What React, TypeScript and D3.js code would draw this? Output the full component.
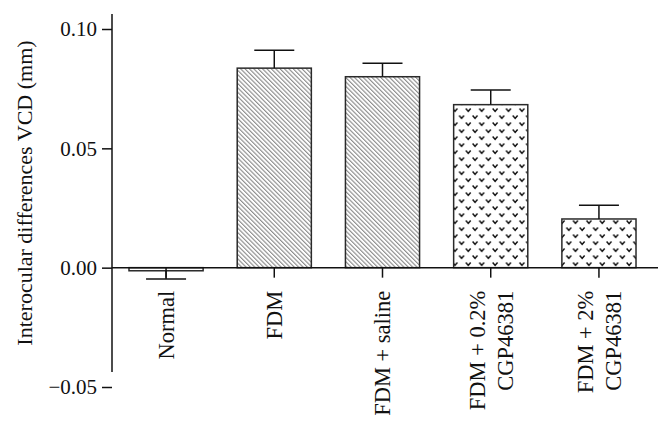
import { useEffect, useRef } from "react";
import * as d3 from "d3";

// Groups, bar heights (mean) and error bars (SEM)
const groups = ["Normal", "FDM", "FDM + saline", "FDM + 0.2% CGP46381", "FDM + 2% CGP46381"];
const groupLabelLines = [["Normal"], ["FDM"], ["FDM + saline"], ["FDM + 0.2%", "CGP46381"], ["FDM + 2%", "CGP46381"]];
const means = [-0.0013, 0.0836, 0.08, 0.0683, 0.0204];
const sems = [0.0034, 0.0075, 0.0057, 0.0061, 0.0057];
const fillKinds = ["plain", "hatch", "hatch", "dots", "dots"];
const yTicks = [-0.05, 0, 0.05, 0.1];
const yAxisSpan = [-0.0437, 0.1063];
const yTitle = "Interocular differences VCD (mm)";

const W = 666;
const H = 424;
const FONT = "'Liberation Serif', 'Times New Roman', serif";

export default function App() {
    const svgRef = useRef<SVGSVGElement | null>(null);

    useEffect(() => {
        const root = d3.select(svgRef.current);
        root.selectAll("*").remove();

        const x0 = 112;
        const x = d3.scaleBand().domain(groups).range([x0, 653]).paddingInner(0.315).paddingOuter(0.157);
        const y = d3.scaleLinear().domain([-0.05, 0.1]).range([387, 29]);

        // fill patterns
        const defs = root.append("defs");
        const hatch = defs
            .append("pattern")
            .attr("id", "hatch")
            .attr("patternUnits", "userSpaceOnUse")
            .attr("width", 3.1)
            .attr("height", 10)
            .attr("patternTransform", "rotate(-45)");
        hatch.append("rect").attr("width", 3.1).attr("height", 10).attr("fill", "#fff");
        hatch.append("line").attr("x1", 0.6).attr("x2", 0.6).attr("y1", 0).attr("y2", 10)
            .attr("stroke", "#7d7d7d").attr("stroke-width", 1);

        const dots = defs
            .append("pattern")
            .attr("id", "dots")
            .attr("patternUnits", "userSpaceOnUse")
            .attr("width", 13.4)
            .attr("height", 14)
            .attr("x", 3)
            .attr("y", 2);
        dots.append("rect").attr("width", 13.4).attr("height", 14).attr("fill", "#fff");
        [[3, 3], [9.7, 10]].forEach(([cx, cy]) => {
            dots.append("path")
                .attr("d", `M${cx - 2.4},${cy - 1.4}L${cx},${cy + 1.4}L${cx + 2.4},${cy - 1.4}`)
                .attr("fill", "none")
                .attr("stroke", "#111")
                .attr("stroke-width", 1.5);
        });

        const g = root.append("g");

        // bars
        groups.forEach((grp, i) => {
            const v = means[i];
            const bx = x(grp)!;
            const top = y(Math.max(0, v));
            const bot = y(Math.min(0, v));
            const fill = fillKinds[i] === "hatch" ? "url(#hatch)" : fillKinds[i] === "dots" ? "url(#dots)" : "#fff";
            g.append("rect")
                .attr("x", bx)
                .attr("y", top)
                .attr("width", x.bandwidth())
                .attr("height", Math.max(bot - top, 3))
                .attr("fill", fill)
                .attr("stroke", "#2a2a2a")
                .attr("stroke-width", 1.5);

            // one-sided error bar
            const cx = bx + x.bandwidth() / 2;
            const end = v >= 0 ? v + sems[i] : v - sems[i];
            g.append("line")
                .attr("x1", cx).attr("x2", cx)
                .attr("y1", y(v)).attr("y2", y(end))
                .attr("stroke", "#111").attr("stroke-width", 1.5);
            g.append("line")
                .attr("x1", cx - 20).attr("x2", cx + 20)
                .attr("y1", y(end)).attr("y2", y(end))
                .attr("stroke", "#111").attr("stroke-width", 1.5);
        });

        // y axis
        const yAxis = root.append("g").attr("transform", `translate(${x0},0)`)
            .call(d3.axisLeft(y).tickValues(yTicks).tickSize(10).tickPadding(5).tickFormat(d3.format(".2f")));
        yAxis.select(".domain").remove();
        yAxis.selectAll("line").attr("stroke", "#111").attr("stroke-width", 1.5);
        yAxis.selectAll("text").attr("font-family", FONT).attr("font-size", 21).attr("fill", "#111");
        root.append("line")
            .attr("x1", x0).attr("x2", x0)
            .attr("y1", y(yAxisSpan[1])).attr("y2", y(yAxisSpan[0]))
            .attr("stroke", "#111").attr("stroke-width", 1.5);

        // x axis at zero
        root.append("line")
            .attr("x1", x0).attr("x2", 658)
            .attr("y1", y(0)).attr("y2", y(0))
            .attr("stroke", "#111").attr("stroke-width", 1.5);

        groups.forEach((grp, i) => {
            const cx = x(grp)! + x.bandwidth() / 2;
            root.append("line")
                .attr("x1", cx).attr("x2", cx)
                .attr("y1", y(0)).attr("y2", y(0) + 10)
                .attr("stroke", "#111").attr("stroke-width", 1.5);

            const lines = groupLabelLines[i];
            const lineGap = 28;
            const t = root.append("text")
                .attr("transform", `translate(${cx},${y(0) + 23}) rotate(-90)`)
                .attr("text-anchor", "end")
                .attr("font-family", FONT)
                .attr("font-size", 22.5)
                .attr("fill", "#111");
            lines.forEach((ln, j) => {
                const off = (j - (lines.length - 1) / 2) * lineGap;
                t.append("tspan").attr("x", 0).attr("y", off).attr("dy", "0.35em").text(ln);
            });
        });

        // y title
        root.append("text")
            .attr("transform", `translate(32,193) rotate(-90)`)
            .attr("text-anchor", "middle")
            .attr("font-family", FONT)
            .attr("font-size", 22)
            .attr("fill", "#111")
            .text(yTitle);
    }, []);

    return (
        <svg
            ref={svgRef}
            width={W}
            height={H}
            style={{ position: "absolute", left: 0, top: 0, background: "#fff" }}
        />
    );
}
